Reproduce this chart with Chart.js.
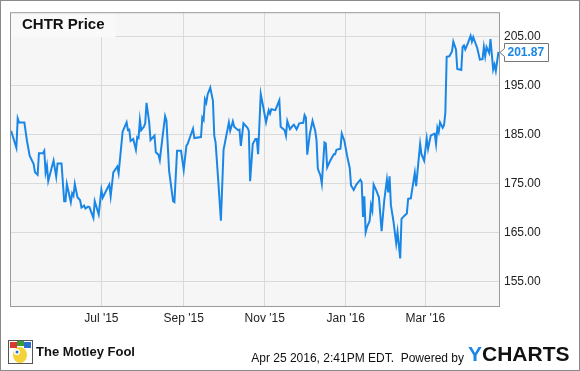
<!DOCTYPE html>
<html>
<head>
<meta charset="utf-8">
<script src="https://cdn.jsdelivr.net/npm/chart.js@4.4.1/dist/chart.umd.min.js"></script>
<style>
  html, body { margin: 0; padding: 0; background: #fff; }
  #wrap { width: 580px; height: 371px; position: relative; }
</style>
</head>
<body>
<div id="wrap"><canvas id="priceChart" width="580" height="371"></canvas></div>
<script>
// --- DATA (day 0 = Apr 24 2015) ---
const days = [0, 4, 5, 6, 10, 12, 14, 17, 18, 20, 21, 24, 25, 26, 27, 28, 30, 32, 34, 35, 38, 40, 41, 42, 45, 46, 47, 48, 50, 52, 53, 55, 56, 58, 59, 62, 63, 66, 68, 69, 73, 74, 75, 77, 80, 81, 84, 87, 88, 89, 90, 92, 94, 95, 96, 97, 98, 100, 101, 102, 104, 105, 108, 109, 111, 112, 114, 116, 117, 119, 122, 123, 125, 128, 130, 132, 133, 137, 138, 143, 144, 145, 146, 147, 148, 150, 152, 153, 154, 156, 158, 160, 164, 165, 167, 168, 171, 172, 173, 175, 178, 179, 180, 182, 184, 185, 186, 188, 190, 192, 194, 195, 196, 199, 202, 203, 206, 207, 208, 210, 212, 213, 215, 217, 220, 221, 222, 223, 225, 227, 229, 230, 231, 233, 234, 236, 237, 238, 240, 243, 244, 245, 248, 249, 251, 253, 255, 256, 258, 260, 263, 264, 265, 266, 267, 268, 270, 271, 272, 273, 275, 277, 279, 281, 283, 284, 285, 286, 288, 290, 291, 293, 294, 296, 298, 299, 301, 304, 305, 308, 309, 311, 313, 314, 316, 318, 319, 320, 321, 322, 323, 325, 326, 327, 328, 330, 332, 333, 335, 336, 339, 340, 341, 342, 344, 346, 347, 348, 351, 353, 355, 356, 357, 358, 360, 361, 363, 364, 365, 367];
const prices = [185.8, 182.3, 188.3, 187.5, 187.5, 183.7, 180.7, 179.0, 177.3, 176.8, 181.2, 181.2, 181.7, 177.3, 178.7, 175.5, 177.6, 179.7, 176.4, 179.1, 179.1, 171.4, 171.4, 174.9, 171.2, 173.0, 172.5, 174.9, 172.2, 171.6, 170.1, 170.5, 169.9, 170.3, 170.2, 168.0, 171.4, 168.7, 173.7, 172.1, 174.3, 174.8, 172.4, 177.3, 178.5, 177.1, 185.6, 187.5, 185.9, 186.0, 183.7, 184.1, 181.9, 184.5, 184.3, 188.0, 185.9, 186.6, 187.3, 191.5, 187.5, 183.9, 184.8, 181.4, 180.9, 179.8, 184.4, 188.8, 187.9, 177.6, 171.4, 171.2, 181.7, 181.7, 177.8, 182.7, 183.1, 186.2, 184.3, 184.5, 188.5, 188.0, 192.2, 191.5, 193.2, 194.6, 191.9, 184.8, 183.4, 175.6, 167.4, 181.9, 187.5, 185.8, 187.7, 186.6, 185.9, 186.0, 182.7, 187.3, 186.4, 185.8, 175.5, 183.1, 184.1, 184.1, 181.0, 193.3, 190.5, 187.5, 190.0, 189.3, 190.2, 190.0, 192.0, 186.6, 185.9, 184.8, 187.8, 186.1, 186.8, 187.0, 186.1, 187.3, 187.4, 189.0, 188.5, 180.9, 185.2, 187.8, 185.8, 183.9, 178.0, 176.6, 175.0, 183.4, 183.2, 178.3, 179.5, 181.0, 181.0, 181.9, 182.1, 185.2, 183.7, 180.7, 178.2, 174.6, 173.7, 174.8, 175.8, 175.3, 168.2, 172.4, 165.1, 166.1, 167.4, 170.6, 169.5, 174.8, 173.6, 172.2, 165.3, 171.6, 175.8, 173.2, 176.5, 170.6, 167.2, 162.8, 165.1, 159.7, 167.8, 168.4, 168.9, 171.9, 172.0, 177.2, 174.5, 183.1, 181.0, 179.7, 184.2, 182.1, 184.8, 185.1, 185.2, 183.1, 186.4, 185.5, 187.5, 186.4, 186.9, 189.5, 200.9, 201.0, 202.0, 204.0, 202.4, 198.4, 198.2, 202.9, 203.2, 202.4, 203.7, 205.2, 204.0, 204.9, 202.7, 200.3, 200.4, 202.9, 201.0, 202.9, 201.7, 204.5, 198.3, 199.3, 198.0, 201.87];
const tickDays = [68, 130, 191, 252, 312];
const tickLabels = ["Jul '15", "Sep '15", "Nov '15", "Jan '16", "Mar '16"];
const yTicks = [155, 165, 175, 185, 195, 205];
const title = 'CHTR Price';
const lastPrice = prices[prices.length - 1];

const BLUE = '#1a87e6';
const FONT = '"Liberation Sans", Arial, sans-serif';

// background, title box, frame, last value flag, footer
const decor = {
    id: 'decor',
    beforeDraw(chart) {
        const { ctx, chartArea: a } = chart;
        ctx.save();
        ctx.fillStyle = '#fff';
        ctx.fillRect(0, 0, chart.width, chart.height);
        ctx.fillStyle = '#f6f6f6';
        ctx.fillRect(a.left, a.top, a.right - a.left, a.bottom - a.top);
        ctx.restore();
    },
    beforeDatasetsDraw(chart) {
        const { ctx, chartArea: a } = chart;
        ctx.save();
        ctx.fillStyle = '#f9f9f9';
        ctx.fillRect(a.left + 0.5, a.top + 0.5, 105, 24.5);
        ctx.fillStyle = '#111';
        ctx.font = 'bold 15px ' + FONT;
        ctx.textBaseline = 'middle';
        ctx.fillText(title, a.left + 12, a.top + 13);
        ctx.restore();
    },
    afterDraw(chart) {
        const { ctx, chartArea: a } = chart;
        ctx.save();
        // plot frame
        ctx.strokeStyle = '#9a9a9a';
        ctx.lineWidth = 1;
        ctx.strokeRect(a.left + 0.5, a.top + 0.5, a.right - a.left, a.bottom - a.top);
        // outer frame
        ctx.strokeStyle = '#8a8a8a';
        ctx.strokeRect(0.5, 0.5, chart.width - 1, chart.height - 1);

        // last value flag
        const y = Math.round(chart.scales.y.getPixelForValue(lastPrice)) + 0.5;
        const bx = a.right + 5.5, bw = 44, bh = 18;
        ctx.beginPath();
        ctx.moveTo(a.right + 1, y);
        ctx.lineTo(bx, y - 4);
        ctx.lineTo(bx, y - bh / 2);
        ctx.lineTo(bx + bw, y - bh / 2);
        ctx.lineTo(bx + bw, y + bh / 2);
        ctx.lineTo(bx, y + bh / 2);
        ctx.lineTo(bx, y + 4);
        ctx.closePath();
        ctx.fillStyle = '#fff';
        ctx.fill();
        ctx.strokeStyle = '#777';
        ctx.stroke();
        ctx.fillStyle = BLUE;
        ctx.font = 'bold 12px ' + FONT;
        ctx.textBaseline = 'middle';
        ctx.fillText(lastPrice.toFixed(2), bx + 3, y + 0.5);

        // footer: Motley Fool mark
        ctx.fillStyle = '#fff';
        ctx.strokeStyle = '#555';
        ctx.strokeRect(8.5, 340.5, 24, 23);
        ctx.fillStyle = '#f3d23a';
        ctx.beginPath(); ctx.ellipse(20, 355, 7, 8, 0, 0, Math.PI * 2); ctx.fill();
        ctx.fillStyle = '#d83a2c';
        ctx.fillRect(10, 342, 7, 6);
        ctx.fillStyle = '#2a6fd0';
        ctx.fillRect(24, 342, 7, 6);
        ctx.fillStyle = '#3a9a3a';
        ctx.fillRect(17, 341, 7, 5);
        ctx.fillStyle = '#fff';
        ctx.beginPath(); ctx.arc(17, 352, 3, 0, Math.PI * 2); ctx.fill();
        ctx.fillStyle = '#2a6fd0';
        ctx.beginPath(); ctx.arc(17, 352, 1.5, 0, Math.PI * 2); ctx.fill();
        ctx.fillStyle = '#111';
        ctx.font = 'bold 13px ' + FONT;
        ctx.textBaseline = 'middle';
        ctx.fillText('The Motley Fool', 36, 352);

        // footer: stamp + YCharts
        ctx.font = '12px ' + FONT;
        ctx.textAlign = 'right';
        ctx.fillStyle = '#111';
        ctx.fillText('Apr 25 2016, 2:41PM EDT.  Powered by', 464, 359);
        ctx.textAlign = 'left';
        ctx.font = 'bold 21px ' + FONT;
        ctx.fillStyle = BLUE;
        ctx.fillText('Y', 468, 355);
        const yw = ctx.measureText('Y').width;
        ctx.fillStyle = '#111';
        ctx.fillText('CHARTS', 468 + yw, 355);
        ctx.restore();
    }
};

const ctxPrice = document.getElementById('priceChart').getContext('2d');
const priceChart = new Chart(ctxPrice, {
    type: 'line',
    data: {
        datasets: [{
            data: days.map((d, i) => ({ x: d, y: prices[i] })),
            borderColor: BLUE,
            borderWidth: 2,
            pointRadius: 0,
            tension: 0,
            fill: false
        }]
    },
    options: {
        responsive: false,
        animation: false,
        layout: { padding: { left: 10, top: 10, right: 0, bottom: 40 } },
        plugins: { legend: { display: false }, tooltip: { enabled: false } },
        scales: {
            x: {
                type: 'linear',
                min: -0.8,
                max: 367.4,
                afterBuildTicks: s => { s.ticks = tickDays.map(v => ({ value: v })); },
                afterFit: s => { s.height = 25; },
                grid: { color: '#dadada', drawTicks: false },
                border: { display: false },
                ticks: {
                    autoSkip: false, maxRotation: 0, minRotation: 0, padding: 5,
                    color: '#222', font: { family: FONT, size: 12 },
                    callback: v => tickLabels[tickDays.indexOf(v)] || ''
                }
            },
            y: {
                position: 'right',
                min: 150,
                max: 210,
                afterBuildTicks: s => { s.ticks = yTicks.map(v => ({ value: v })); },
                afterFit: s => { s.width = 81; },
                grid: { color: '#dadada', drawTicks: false },
                border: { display: false },
                ticks: {
                    padding: 5, color: '#222', font: { family: FONT, size: 12 },
                    callback: v => v.toFixed(2)
                }
            }
        }
    },
    plugins: [decor]
});
</script>
</body>
</html>
